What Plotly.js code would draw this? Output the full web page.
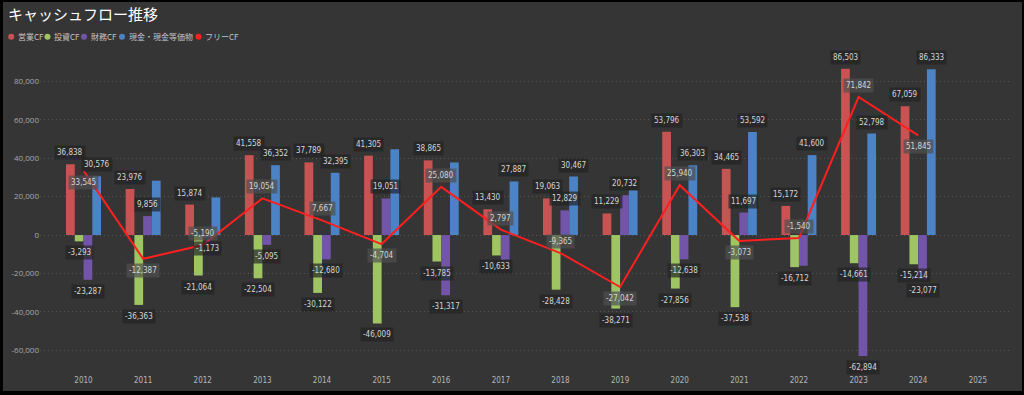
<!DOCTYPE html>
<html>
<head>
<meta charset="utf-8">
<script src="https://cdn.plot.ly/plotly-3.0.1.min.js"></script>
<style>
  html, body { margin: 0; padding: 0; background: #000; width: 1024px; height: 395px; overflow: hidden; }
  #chart { position: absolute; left: 3px; top: 2px; width: 1019px; height: 389px; }
</style>
</head>
<body>
<div id="chart"></div>
<script>
// ---- data ----
const years = ['2010','2011','2012','2013','2014','2015','2016','2017','2018','2019','2020','2021','2022','2023','2024','2025'];
const opCF   = [36838, 23976, 15874, 41558, 37789, 41305, 38865, 13430, 19063, 11229, 53796, 34465, 15172, 86503, 67059, null];
const invCF  = [-3293, -36363, -21064, -22504, -30122, -46009, -13785, -10633, -28428, -38271, -27856, -37538, -16712, -14661, -15214, null];
const finCF  = [-23287, 9856, -1173, -5095, -12680, 19051, -31317, -13000, 12829, 20732, -12638, 11697, -16000, -62894, -23077, null];
const cashEq = [30576, 28300, 19600, 36352, 32395, 44600, 37800, 27887, 30467, 23400, 36303, 53592, 41600, 52798, 86333, null];
const freeCF = [33545, -12387, -5190, 19054, 7667, -4704, 25080, 2797, -9365, -27042, 25940, -3073, -1540, 71842, 51845, null];
const seriesNames = ['営業CF', '投資CF', '財務CF', '現金・現金等価物', 'フリーCF'];
const yTicks = [-60000, -40000, -20000, 0, 20000, 40000, 60000, 80000];
// labels not shown in the original (hidden by overlap)
const hiddenLabels = {
  '財務CF': ['2017', '2022'],
  '現金・現金等価物': ['2011', '2012', '2015', '2016', '2019']
};
const freeLabelSide = ['below','below','above','above','above','below','above','above','above','below','above','below','above','above','below'];

// ---- style ----
const colors = ['#c85353', '#9fc563', '#7254a8', '#4c82c6', '#ff1f1f'];
const W = 1019, H = 389;
const M = { l: 37, r: 12, t: 53, b: 23 };
const xRange = [-0.73, 15.54];
const yRange = [-69200, 93700];
const bargap = 0.413;
const plotW = W - M.l - M.r, plotH = H - M.t - M.b;
const catPx = plotW / (xRange[1] - xRange[0]);
const barPx = catPx * (1 - bargap) / 4;
const labelFont = { family: 'DejaVu Sans Condensed, Roboto, sans-serif', size: 8, color: '#d6d6d6' };
const fmt = v => v.toLocaleString('en-US');

const barSeries = [opCF, invCF, finCF, cashEq];
const traces = barSeries.map((ys, k) => ({
  type: 'bar', name: seriesNames[k], x: years, y: ys,
  marker: { color: colors[k], line: { width: 0 } },
  hoverinfo: 'skip', showlegend: false
}));
traces.push({
  type: 'scatter', mode: 'lines', name: seriesNames[4], x: years, y: freeCF,
  line: { color: colors[4], width: 2 }, hoverinfo: 'skip', showlegend: false
});

const annotations = [];
barSeries.forEach((ys, k) => {
  const hidden = hiddenLabels[seriesNames[k]] || [];
  const xs = (k - 1.5) * barPx;
  ys.forEach((v, i) => {
    if (v === null || hidden.includes(years[i])) return;
    annotations.push({
      x: i, y: v, xref: 'x', yref: 'y', showarrow: false,
      text: fmt(v), font: labelFont,
      xshift: xs, yshift: v >= 0 ? 4 : -4, yanchor: v >= 0 ? 'bottom' : 'top',
      bgcolor: 'rgba(36,36,36,0.7)', borderpad: 2
    });
  });
});
freeCF.forEach((v, i) => {
  if (v === null) return;
  const above = freeLabelSide[i] === 'above';
  annotations.push({
    x: i, y: v, xref: 'x', yref: 'y', showarrow: false,
    text: fmt(v), font: labelFont,
    yshift: above ? 4 : -4, yanchor: above ? 'bottom' : 'top',
    bgcolor: 'rgba(80,80,80,0.7)', borderpad: 2
  });
});

// legend (page pixel positions)
const px2x = px => (px - 3 - M.l) / plotW;
const px2y = py => 1 - ((py - 2) - M.t) / plotH;
const legCircleX = [11.2, 47.5, 84, 122, 198.5];
const legY = 36.7;
const shapes = [];
seriesNames.forEach((n, k) => {
  shapes.push({
    type: 'circle', xref: 'paper', yref: 'paper', xsizemode: 'pixel', ysizemode: 'pixel',
    xanchor: px2x(legCircleX[k]), yanchor: px2y(legY), x0: -3, x1: 3, y0: -3, y1: 3,
    fillcolor: colors[k], line: { width: 0 }
  });
  annotations.push({
    xref: 'paper', yref: 'paper', x: px2x(legCircleX[k] + 4.5), y: px2y(legY),
    xanchor: 'left', yanchor: 'middle', showarrow: false, text: n,
    font: { family: 'Noto Sans CJK JP, sans-serif', size: 8, color: '#c4c4c4' }
  });
});

const layout = {
  width: W, height: H,
  paper_bgcolor: '#353535', plot_bgcolor: '#353535',
  margin: M,
  title: {
    text: 'キャッシュフロー推移', xref: 'container', yref: 'container',
    x: 5 / W, xanchor: 'left', y: 1 - 13 / H, yanchor: 'middle',
    font: { family: 'Noto Sans CJK JP, sans-serif', size: 15, color: '#ffffff' }
  },
  barmode: 'group', bargap: bargap, bargroupgap: 0,
  showlegend: false,
  xaxis: {
    type: 'category', categoryorder: 'array', categoryarray: years,
    range: xRange, showgrid: false, zeroline: false, showline: false, ticks: '',
    ticklabelstandoff: 6,
    tickfont: { family: 'DejaVu Sans Condensed, sans-serif', size: 8, color: '#b5b5b5' },
    fixedrange: true
  },
  yaxis: {
    range: yRange, tickvals: yTicks, ticktext: yTicks.map(fmt),
    showgrid: true, gridcolor: '#555555', griddash: '1px,3px', gridwidth: 1,
    zeroline: false, showline: false, ticks: '',
    tickfont: { family: 'Open Sans, sans-serif', size: 8, color: '#a8a8a8' },
    fixedrange: true
  },
  annotations: annotations,
  shapes: shapes
};

Plotly.newPlot('chart', traces, layout, { staticPlot: true, displayModeBar: false });
</script>
</body>
</html>
